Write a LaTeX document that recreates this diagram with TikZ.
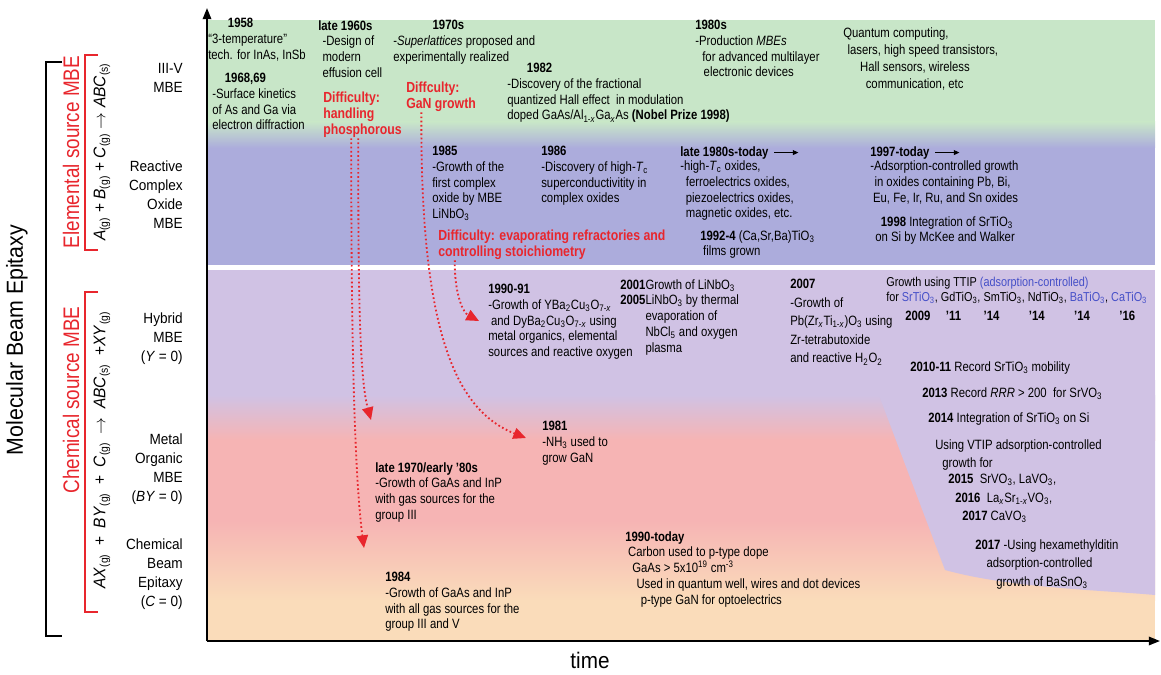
\documentclass[tikz,border=0pt]{standalone}
\usepackage{fontspec}
\setmainfont{Liberation Sans}[FakeStretch=0.84]
\newfontfamily\lblfont{Liberation Sans}[FakeStretch=0.92]
\usetikzlibrary{arrows.meta,positioning}

\definecolor{cgreen}{RGB}{200,230,200}
\definecolor{cblue}{RGB}{172,172,220}
\definecolor{cviolet}{RGB}{208,194,228}
\definecolor{cpink}{RGB}{246,180,180}
\definecolor{cpeach}{RGB}{250,220,186}
\definecolor{cred}{RGB}{232,38,45}
\definecolor{tblue}{RGB}{70,80,200}

\newcommand{\sbs}[1]{\textsubscript{#1}}
\newcommand{\yr}[1]{\textbf{#1}}
\newcommand{\evtsize}{\fontsize{9.6}{11.2}\selectfont}
\newcommand{\smlsize}{\fontsize{9.2}{10.8}\selectfont}
\newcommand{\difsize}{\fontsize{10.4}{11.4}\selectfont}

\begin{document}
\begin{tikzpicture}[
  x=0.025cm, y=-0.025cm,
  evt/.style={anchor=north west, align=left, inner sep=0pt, font=\evtsize},
  diff/.style={evt, text=cred, font=\difsize\bfseries},
  cat/.style={anchor=north east, align=right, inner sep=0pt, font=\lblfont\fontsize{10.5}{13.5}\selectfont},
  side/.style={rotate=90, inner sep=0pt},
  axis/.style={line width=1.4pt, -{Triangle[length=8pt,width=6pt]}},
  dotarr/.style={draw=cred, line width=1.3pt, dash pattern=on 1.2pt off 1.8pt, -{Triangle[length=9pt,width=8pt]}},
  tinyarr/.style={line width=0.6pt, -{Triangle[length=4pt,width=3.5pt]}}
]
\useasboundingbox (0,0) rectangle (1161,675);

% bands
\fill[cgreen] (208,20) rectangle (1155,122);
\shade[top color=cgreen, bottom color=cblue] (208,122) rectangle (1155,148);
\fill[cblue] (208,148) rectangle (1155,265);
\fill[cviolet] (208,270) rectangle (1155,395);
\shade[top color=cviolet, bottom color=cpink] (208,395) rectangle (1155,440);
\fill[cpink] (208,440) rectangle (1155,520);
\shade[top color=cpink, bottom color=cpeach] (208,520) rectangle (1155,600);
\fill[cpeach] (208,600) rectangle (1155,640);
\fill[cviolet] (870,380) -- (880,398) -- (945,570) .. controls (1010,588) and (1100,590) .. (1155,595) -- (1155,380) -- cycle;

% axes
\coordinate (origin) at (207,641);
\coordinate (ytop) at (207,8);
\coordinate (xend) at (1160,641);
\draw[axis] (origin) -- (ytop);
\draw[axis] (origin) -- (xend);
\node[font=\lblfont\fontsize{16}{18}\selectfont] (time) at (590,660) {time};

% left side
\draw[line width=1pt] (62,62) -- (46,62) -- (46,636) -- (62,636);
\draw[cred, line width=1pt] (98,55) -- (85,55) -- (85,250) -- (98,250);
\draw[cred, line width=1pt] (98,292) -- (85,292) -- (85,612) -- (98,612);
\node[side, font=\lblfont\fontsize{16.5}{18}\selectfont] (mbe) at (17,340) {Molecular Beam Epitaxy};
\node[side, text=cred, font=\fontsize{16}{18}\selectfont] (elem) at (71,152) {Elemental source MBE};
\node[side, text=cred, font=\fontsize{16}{18}\selectfont] (chem) at (71,400) {Chemical source MBE};
\node[side, font=\lblfont\fontsize{12}{14}\selectfont] (eqel) at (102,152)
  {\textit{A}\sbs{(g)} + \textit{B}\sbs{(g)} + \textit{C}\sbs{(g)} $\rightarrow$ \textit{ABC}\sbs{(s)}};
\node[side, font=\lblfont\fontsize{12}{14}\selectfont] (eqch) at (102,450)
  {\textit{AX}\sbs{(g)}\enspace+\enspace\textit{BY}\sbs{(g)}\enspace+\enspace\textit{C}\sbs{(g)}\enspace$\rightarrow$\enspace\textit{ABC}\sbs{(s)}\enspace+\textit{XY}\sbs{(g)}};

\node[cat] (c35) at (183,63) {III-V\\MBE};
\node[cat] (cox) at (183,161) {Reactive\\Complex\\Oxide\\MBE};
\node[cat] (chy) at (183,313) {Hybrid\\MBE\\(\textit{Y} = 0)};
\node[cat] (cmo) at (183,434) {Metal\\Organic\\MBE\\(\textit{BY} = 0)};
\node[cat] (ccb) at (183,539) {Chemical\\Beam\\Epitaxy\\(\textit{C} = 0)};

% III-V MBE
\node[evt] (t1958) at (208,18) {\hspace*{14pt}\yr{1958}\\“3-temperature”\\tech. for InAs, InSb};
\node[evt] (t1968) at (212,73) {\hspace*{9pt}\yr{1968,69}\\-Surface kinetics\\of As and Ga via\\electron diffraction};
\node[evt] (t1960s) at (318,20) {\yr{late 1960s}\\\hspace*{3pt}-Design of\\\hspace*{3pt}modern\\\hspace*{3pt}effusion cell};
\node[diff] (phos) at (323,92) {Difficulty:\\handling\\phosphorous};
\node[evt] (t1970s) at (393,20) {\hspace*{28pt}\yr{1970s}\\-\textit{Superlattices} proposed and\\experimentally realized};
\node[diff] (gan) at (406,82) {Diffculty:\\GaN growth};
\node[evt] (t1982) at (507,63) {\hspace*{14pt}\yr{1982}\\-Discovery of the fractional\\quantized Hall effect\ \ in modulation\\doped GaAs/Al\sbs{1-\textit{x}}Ga\sbs{\textit{x}}As \textbf{(Nobel Prize 1998)}};
\node[evt] (t1980s) at (695,20) {\yr{1980s}\\-Production \textit{MBEs}\\\hspace*{5pt}for advanced multilayer\\\hspace*{6pt}electronic devices};
\node[evt] (appl) at (843,27) {Quantum computing,\\[1pt]\hspace*{3pt}lasers, high speed transistors,\\[1pt]\hspace*{12pt}Hall sensors, wireless\\[1pt]\hspace*{16pt}communication, etc};

% oxide MBE
\node[evt] (t1985) at (432,146) {\yr{1985}\\-Growth of the\\first complex\\oxide by MBE\\LiNbO\sbs{3}};
\node[diff] (stoi) at (438,230) {Difficulty: evaporating refractories and\\controlling stoichiometry};
\node[evt] (t1986) at (541,146) {\yr{1986}\\-Discovery of high-\textit{T}\sbs{c}\\superconductivitity in\\complex oxides};
\node[evt] (h1980t) at (680,146) {\yr{late 1980s-today}};
\node[evt, below=1pt of h1980t.south west, anchor=north west] (t1980t) {-high-\textit{T}\sbs{c} oxides,\\\hspace*{4pt}ferroelectrics oxides,\\\hspace*{4pt}piezoelectrics oxides,\\\hspace*{4pt}magnetic oxides, etc.};
\draw[tinyarr] ([xshift=4pt]h1980t.east) -- ++(24,0);
\node[evt] (t1992) at (700,230) {\yr{1992-4} (Ca,Sr,Ba)TiO\sbs{3}\\\hspace*{2pt}films grown};
\node[evt] (h1997) at (870,146) {\yr{1997-today}};
\node[evt, below=1pt of h1997.south west, anchor=north west] (t1997) {-Adsorption-controlled growth\\\hspace*{3pt}in oxides containing Pb, Bi,\\\hspace*{2pt}Eu, Fe, Ir, Ru, and Sn oxides};
\draw[tinyarr] ([xshift=4pt]h1997.east) -- ++(24,0);
\node[evt] (t1998) at (875,216) {\hspace*{4pt}\yr{1998} Integration of SrTiO\sbs{3}\\on Si by McKee and Walker};

% hybrid MBE
\fill[white] (208,265) rectangle (1155,270);
\node[evt] (t1990) at (488,284) {\yr{1990-91}\\-Growth of YBa\sbs{2}Cu\sbs{3}O\sbs{7-\textit{x}}\\\hspace*{2pt}and DyBa\sbs{2}Cu\sbs{3}O\sbs{7-\textit{x}} using\\metal organics, elemental\\sources and reactive oxygen};
\node[evt] (t2001) at (620,279) {\yr{2001}Growth of LiNbO\sbs{3}\\\yr{2005}LiNbO\sbs{3} by thermal\\\phantom{\yr{2005}}evaporation of\\\phantom{\yr{2005}}NbCl\sbs{5} and oxygen\\\phantom{\yr{2005}}plasma};
\node[evt] (t2007) at (790,279) {\yr{2007}\\[2pt]-Growth of\\[2pt]Pb(Zr\sbs{\textit{x}}Ti\sbs{1-\textit{x}})O\sbs{3} using\\[2pt]Zr-tetrabutoxide\\[2pt]and reactive H\sbs{2}O\sbs{2}};
\node[evt, font=\smlsize] (ttip) at (886,277) {Growth using TTIP {\color{tblue}(adsorption-controlled)}\\for {\color{tblue}SrTiO\sbs{3}}, GdTiO\sbs{3}, SmTiO\sbs{3}, NdTiO\sbs{3}, {\color{tblue}BaTiO\sbs{3}}, {\color{tblue}CaTiO\sbs{3}}};
\node[evt] (tyears) at (905,311) {\yr{2009\hspace{11pt}’11\hspace{16pt}’14\hspace{21pt}’14\hspace{21pt}’14\hspace{21pt}’16}};
\node[evt] (t2010) at (910,361) {\yr{2010-11} Record SrTiO\sbs{3} mobility};
\node[evt] (t2013) at (922,387) {\yr{2013} Record \textit{RRR} > 200\ \ for SrVO\sbs{3}};
\node[evt] (t2014) at (928,412) {\yr{2014} Integration of SrTiO\sbs{3} on Si};
\node[evt] (vtip) at (935,439) {Using VTIP adsorption-controlled\\[2pt]\hspace*{5pt}growth for};
\node[evt] (t2015) at (948,474) {\yr{2015}\ \ SrVO\sbs{3}, LaVO\sbs{3},\\[2pt]\hspace*{5pt}\yr{2016}\ \ La\sbs{\textit{x}}Sr\sbs{1-\textit{x}}VO\sbs{3},\\[2pt]\hspace*{10pt}\yr{2017} CaVO\sbs{3}};
\node[evt] (t2017) at (975,539) {\yr{2017} -Using hexamethylditin\\[2pt]\hspace*{8pt}adsorption-controlled\\[2pt]\hspace*{15pt}growth of BaSnO\sbs{3}};

% MO MBE and CBE
\node[evt] (t1981) at (542,421) {\yr{1981}\\-NH\sbs{3} used to\\grow GaN};
\node[evt] (t1970l) at (375,462) {\yr{late 1970/early ’80s}\\-Growth of GaAs and InP\\with gas sources for the\\group III};
\node[evt] (t1984) at (385,572) {\yr{1984}\\-Growth of GaAs and InP\\with all gas sources for the\\group III and V};
\node[evt] (t1990t) at (625,531) {\yr{1990-today}\\\hspace*{2pt}Carbon used to p-type dope\\\hspace*{5pt}GaAs > 5x10\textsuperscript{19} cm\textsuperscript{-3}\\\hspace*{8pt}Used in quantum well, wires and dot devices\\\hspace*{11pt}p-type GaN for optoelectrics};

% difficulties
\coordinate (toMO) at (371,420);
\coordinate (toCBE) at (364,548);
\coordinate (to1981) at (526,438);
\coordinate (to1990) at (479,321);
\draw[dotarr] ([xshift=-3pt]phos.south) .. controls (358,300) and (360,380) .. (toMO);
\draw[dotarr] ([xshift=-8pt]phos.south) .. controls (351,350) and (355,480) .. (toCBE);
\draw[dotarr] ([xshift=-14pt]gan.south) .. controls (420,330) and (455,410) .. (to1981);
\draw[dotarr] ([xshift=12pt]stoi.south west) .. controls (454,290) and (462,312) .. (to1990);
\end{tikzpicture}
\end{document}
